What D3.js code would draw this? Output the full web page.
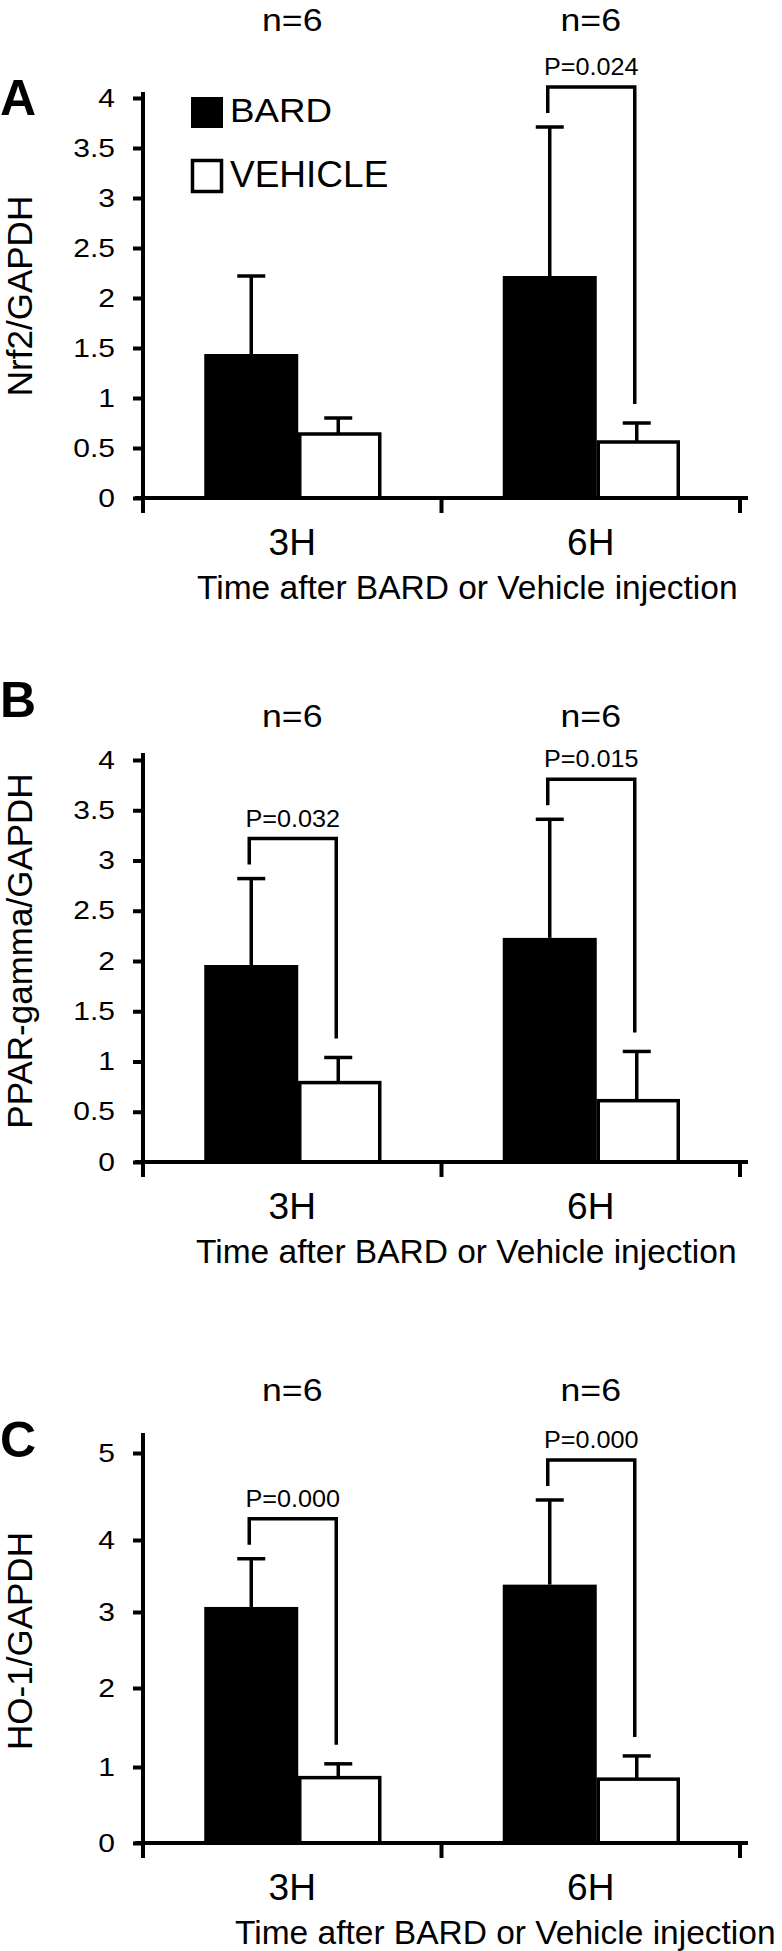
<!DOCTYPE html>
<html>
<head>
<meta charset="utf-8">
<script src="https://cdn.jsdelivr.net/npm/d3@7"></script>
<style>
    body { margin: 0; background: #fff; }
    svg { display: block; font-family: 'Liberation Sans', Arial, Helvetica, sans-serif; }
</style>
</head>
<body>
<svg id="chart" width="782" height="1951"></svg>
<script>
const categories = ['3H', '6H']
const series = ['BARD', 'VEHICLE']
const sampleSizes = ['n=6', 'n=6']
const xTitle = 'Time after BARD or Vehicle injection'

// A: Nrf2
const nrf2Bard = [1.44, 2.22]
const nrf2BardSd = [0.78, 1.49]
const nrf2Vehicle = [0.64, 0.56]
const nrf2VehicleSd = [0.16, 0.19]
const nrf2P = [null, 'P=0.024']
const nrf2Ticks = [0, 0.5, 1, 1.5, 2, 2.5, 3, 3.5, 4]

// B: PPAR-gamma
const pparBard = [1.96, 2.23]
const pparBardSd = [0.86, 1.18]
const pparVehicle = [0.79, 0.61]
const pparVehicleSd = [0.25, 0.49]
const pparP = ['P=0.032', 'P=0.015']
const pparTicks = [0, 0.5, 1, 1.5, 2, 2.5, 3, 3.5, 4]

// C: HO-1 (axis in the figure is unevenly spaced)
const ho1Bard = [3.07, 3.38]
const ho1BardSd = [0.67, 1.08]
const ho1Vehicle = [0.86, 0.84]
const ho1VehicleSd = [0.18, 0.30]
const ho1P = ['P=0.000', 'P=0.000']
const ho1Ticks = [0, 1, 2, 3, 4, 5]

const svg = d3.select('#chart')
const axisX = 143
const x = d3.scaleBand().domain(categories).range([axisX, 740])
const center = (c) => x(c) + x.bandwidth() / 2

// text with an optional horizontal stretch (the figure's lettering is a bit wide)
function label(g, txt, px, py, size, opts = {}) {
    const sx = opts.sx || 1
    return g.append('text')
        .attr('transform', `translate(${px},${py}) scale(${sx},1)`)
        .attr('text-anchor', opts.anchor || 'middle')
        .style('font-size', size + 'px')
        .style('font-weight', opts.weight || 'normal')
        .attr('fill', '#000')
        .text(txt)
}

function drawPanel(p) {
    const g = svg.append('g')
    const y = p.y
    const rows = categories.map((c, i) => ({
        cat: c,
        bard: p.bard[i],
        bardSd: p.bardSd[i],
        veh: p.vehicle[i],
        vehSd: p.vehicleSd[i],
        pLabel: p.pLabels[i],
        n: sampleSizes[i],
    }))

    //BARD bars
    g.selectAll('.bard')
        .data(rows)
        .enter()
        .append('rect')
        .attr('x', (d) => center(d.cat) - 88)
        .attr('y', (d) => y(d.bard))
        .attr('width', 94)
        .attr('height', (d) => p.xAxisY - y(d.bard))
        .attr('fill', '#000')

    //VEHICLE bars
    g.selectAll('.veh')
        .data(rows)
        .enter()
        .append('rect')
        .attr('x', (d) => center(d.cat) + 7.5)
        .attr('y', (d) => y(d.veh))
        .attr('width', 80)
        .attr('height', (d) => p.xAxisY - y(d.veh))
        .attr('fill', '#fff')
        .attr('stroke', '#000')
        .attr('stroke-width', 3.5)

    //error bars
    const err = []
    rows.forEach((d) => {
        err.push({ cx: center(d.cat) - 41, lo: d.bard, hi: d.bard + d.bardSd })
        err.push({ cx: center(d.cat) + 46, lo: d.veh, hi: d.veh + d.vehSd })
    })
    g.selectAll('.stem')
        .data(err)
        .enter()
        .append('line')
        .attr('x1', (d) => d.cx)
        .attr('x2', (d) => d.cx)
        .attr('y1', (d) => y(d.lo))
        .attr('y2', (d) => y(d.hi))
        .attr('stroke', '#000')
        .attr('stroke-width', 3.5)
    g.selectAll('.cap')
        .data(err)
        .enter()
        .append('line')
        .attr('x1', (d) => d.cx - 14)
        .attr('x2', (d) => d.cx + 14)
        .attr('y1', (d) => y(d.hi))
        .attr('y2', (d) => y(d.hi))
        .attr('stroke', '#000')
        .attr('stroke-width', 3.5)

    //significance brackets
    rows.filter((d) => d.pLabel).forEach((d) => {
        const lx = center(d.cat) - 43
        const rx = center(d.cat) + 44
        const top = y(d.bard + d.bardSd) - 40
        const path = d3.path()
        path.moveTo(lx, y(d.bard + d.bardSd) - 14)
        path.lineTo(lx, top)
        path.lineTo(rx, top)
        path.lineTo(rx, y(d.veh + d.vehSd) - 19)
        g.append('path')
            .attr('d', path.toString())
            .attr('fill', 'none')
            .attr('stroke', '#000')
            .attr('stroke-width', 3.5)
        label(g, d.pLabel, (lx + rx) / 2, top - 12, 24, { sx: 1.05 })
    })

    //y axis: tick marks from the axis, labels drawn wide like the figure
    const yAxis = g.append('g')
        .attr('transform', `translate(${axisX},0)`)
        .call(d3.axisLeft(y).tickValues(p.ticks).tickSize(10).tickFormat(''))
    yAxis.select('.domain').remove()
    yAxis.selectAll('line').attr('stroke', '#000').attr('stroke-width', 4)
    p.ticks.forEach((t) => {
        label(g, String(t), axisX - 28, y(t) + 8.5, 25, { anchor: 'end', sx: 1.2 })
    })

    g.append('line')
        .attr('x1', axisX).attr('x2', axisX)
        .attr('y1', p.yTop).attr('y2', p.xAxisY + 15)
        .attr('stroke', '#000').attr('stroke-width', 4)

    //x axis with category boundary ticks
    g.append('line')
        .attr('x1', axisX - 8).attr('x2', 748)
        .attr('y1', p.xAxisY).attr('y2', p.xAxisY)
        .attr('stroke', '#000').attr('stroke-width', 4)
    const bounds = categories.map((c) => x(c)).concat([x.range()[1]])
    g.selectAll('.xtick')
        .data(bounds.slice(1))
        .enter()
        .append('line')
        .attr('x1', (d) => d).attr('x2', (d) => d)
        .attr('y1', p.xAxisY).attr('y2', p.xAxisY + 15)
        .attr('stroke', '#000').attr('stroke-width', 4)

    //category labels, n labels
    rows.forEach((d) => {
        label(g, d.cat, center(d.cat), p.xAxisY + 57, 37)
        label(g, d.n, center(d.cat), p.nBaseline, 31, { sx: 1.15 })
    })

    //x axis title
    label(g, xTitle, p.xTitleX, p.xAxisY + 101, 33.5, { anchor: 'start' })

    //y axis title
    g.append('text')
        .attr('transform', `translate(32,${p.yLabelCenter}) rotate(-90)`)
        .attr('text-anchor', 'middle')
        .style('font-size', '35px')
        .text(p.yLabel)

    //panel letter
    label(g, p.letter, 0, p.letterBaseline, 50, { anchor: 'start', weight: 'bold' })

    if (p.legend) {
        const lg = g.append('g')
        lg.append('rect').attr('x', 191).attr('y', 97).attr('width', 32).attr('height', 31).attr('fill', '#000')
        lg.append('rect').attr('x', 192.5).attr('y', 160.5).attr('width', 29).attr('height', 31)
            .attr('fill', '#fff').attr('stroke', '#000').attr('stroke-width', 3.5)
        label(lg, series[0], 230, 122, 34, { anchor: 'start', sx: 1.08 })
        label(lg, series[1], 230, 187, 37, { anchor: 'start' })
    }
}

drawPanel({
    letter: 'A', yLabel: 'Nrf2/GAPDH',
    y: d3.scaleLinear().domain([0, 4]).range([498, 98]),
    ticks: nrf2Ticks, xAxisY: 498, yTop: 92, nBaseline: 31, letterBaseline: 115,
    yLabelCenter: 296, xTitleX: 197,
    bard: nrf2Bard, bardSd: nrf2BardSd, vehicle: nrf2Vehicle, vehicleSd: nrf2VehicleSd,
    pLabels: nrf2P, legend: true,
})

drawPanel({
    letter: 'B', yLabel: 'PPAR-gamma/GAPDH',
    y: d3.scaleLinear().domain([0, 4]).range([1162, 760]),
    ticks: pparTicks, xAxisY: 1162, yTop: 753, nBaseline: 727, letterBaseline: 717,
    yLabelCenter: 951, xTitleX: 196,
    bard: pparBard, bardSd: pparBardSd, vehicle: pparVehicle, vehicleSd: pparVehicleSd,
    pLabels: pparP,
})

drawPanel({
    letter: 'C', yLabel: 'HO-1/GAPDH',
    y: d3.scaleLinear().domain(ho1Ticks).range([1843, 1767, 1688, 1612, 1540, 1453]),
    ticks: ho1Ticks, xAxisY: 1843, yTop: 1433, nBaseline: 1401, letterBaseline: 1457,
    yLabelCenter: 1641, xTitleX: 235,
    bard: ho1Bard, bardSd: ho1BardSd, vehicle: ho1Vehicle, vehicleSd: ho1VehicleSd,
    pLabels: ho1P,
})
</script>
</body>
</html>
